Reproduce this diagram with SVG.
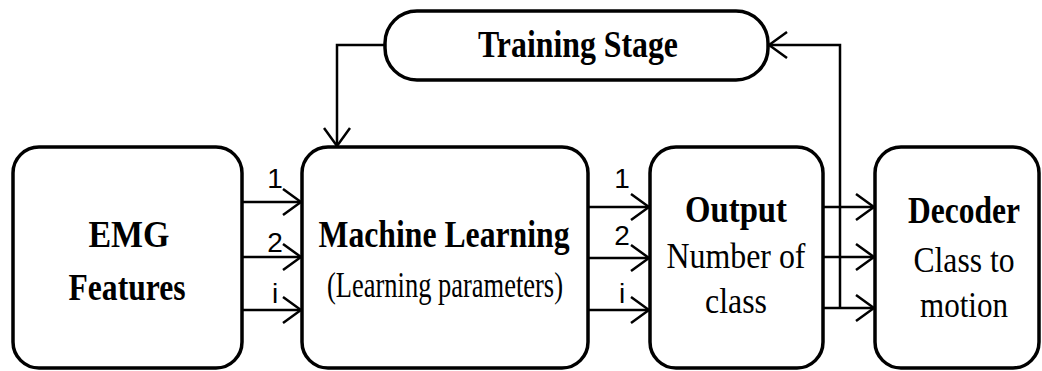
<svg xmlns="http://www.w3.org/2000/svg" width="1042" height="371" viewBox="0 0 1042 371">
<style>
.box{fill:#fff;stroke:#000;stroke-width:3.5}
.c{fill:none;stroke:#000;stroke-width:2.5}
.b{font-family:"Liberation Serif","Times New Roman",serif;font-weight:bold;font-size:38px;fill:#000;text-anchor:middle}
.r{font-family:"Liberation Serif","Times New Roman",serif;font-size:35px;fill:#000;text-anchor:middle}
.lab{font-family:"Liberation Sans",Arial,sans-serif;font-size:28px;fill:#000;text-anchor:middle}
</style>
<defs>
<marker id="ah" markerUnits="userSpaceOnUse" viewBox="0 0 20 28" refX="19" refY="14" markerWidth="20" markerHeight="28" orient="auto">
<path d="M1,1 L19,14 L1,27" fill="none" stroke="#000" stroke-width="2.5"/>
</marker>
</defs>
<rect width="1042" height="371" fill="#fff"/>
<g id="connectors">
<line class="c" x1="243" y1="202" x2="301" y2="202" marker-end="url(#ah)"/>
<line class="c" x1="243" y1="257" x2="301" y2="257" marker-end="url(#ah)"/>
<line class="c" x1="243" y1="310" x2="301" y2="310" marker-end="url(#ah)"/>
<line class="c" x1="589" y1="207" x2="649" y2="207" marker-end="url(#ah)"/>
<line class="c" x1="589" y1="258" x2="649" y2="258" marker-end="url(#ah)"/>
<line class="c" x1="589" y1="310" x2="649" y2="310" marker-end="url(#ah)"/>
<line class="c" x1="824" y1="207" x2="874" y2="207" marker-end="url(#ah)"/>
<line class="c" x1="824" y1="257" x2="874" y2="257" marker-end="url(#ah)"/>
<line class="c" x1="824" y1="308" x2="874" y2="308" marker-end="url(#ah)"/>
<path class="c" d="M385,45 H337 V146" marker-end="url(#ah)"/>
<path class="c" d="M840,308 V45 H769" marker-end="url(#ah)"/>
<text class="lab" x="275" y="188">1</text>
<text class="lab" x="275" y="252">2</text>
<text class="lab" x="275" y="303">i</text>
<text class="lab" x="622" y="188">1</text>
<text class="lab" x="622" y="245">2</text>
<text class="lab" x="622" y="303">i</text>
</g>
<g id="training">
<rect class="box" x="385" y="11" width="383" height="69" rx="32"/>
<text class="b" x="578" y="57" textLength="200" lengthAdjust="spacingAndGlyphs">Training Stage</text>
</g>
<g id="emg">
<rect class="box" x="13" y="147" width="229" height="221" rx="26"/>
<text class="b" x="129" y="247" textLength="81" lengthAdjust="spacingAndGlyphs">EMG</text>
<text class="b" x="127" y="300" textLength="117" lengthAdjust="spacingAndGlyphs">Features</text>
</g>
<g id="ml">
<rect class="box" x="302" y="147" width="286" height="221" rx="26"/>
<text class="b" x="444" y="247" textLength="251" lengthAdjust="spacingAndGlyphs">Machine Learning</text>
<text class="r" x="445" y="297" font-size="29" textLength="236" lengthAdjust="spacingAndGlyphs">(Learning parameters)</text>
</g>
<g id="output">
<rect class="box" x="650" y="147" width="173" height="221" rx="26"/>
<text class="b" x="736" y="222" textLength="102" lengthAdjust="spacingAndGlyphs">Output</text>
<text class="r" x="736" y="268" textLength="139" lengthAdjust="spacingAndGlyphs">Number of</text>
<text class="r" x="736" y="313" textLength="62" lengthAdjust="spacingAndGlyphs">class</text>
</g>
<g id="decoder">
<rect class="box" x="875" y="147" width="164" height="221" rx="26"/>
<text class="b" x="964" y="223" textLength="112" lengthAdjust="spacingAndGlyphs">Decoder</text>
<text class="r" x="964" y="272" textLength="101" lengthAdjust="spacingAndGlyphs">Class to</text>
<text class="r" x="964" y="317" textLength="88" lengthAdjust="spacingAndGlyphs">motion</text>
</g>
</svg>
